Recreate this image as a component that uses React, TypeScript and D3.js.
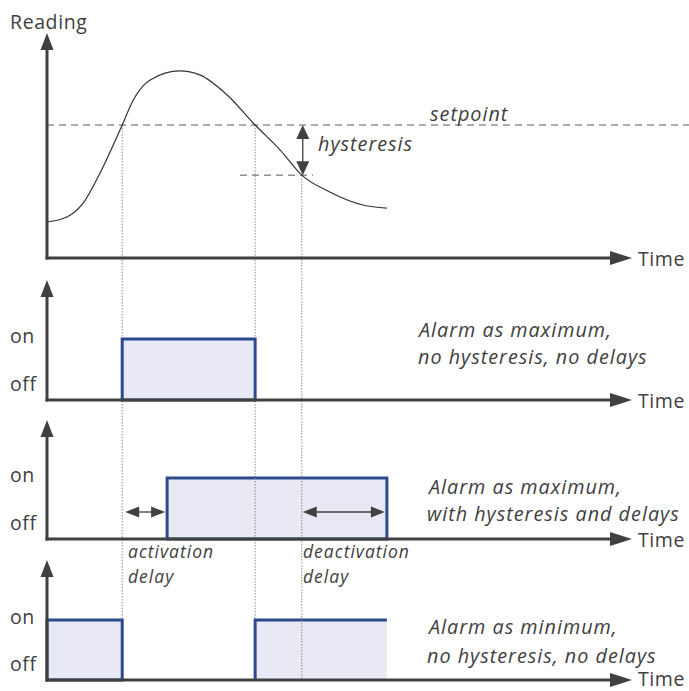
import React from "react";
import * as d3 from "d3";

// ---- data (time and reading in arbitrary units 0..100) ----
const curveTime = [0, 3.4, 6.2, 9.1, 12.9, 14.8, 17.7, 22.8, 26.2, 30.9, 35.7, 40.0, 43.7, 48.5, 54.2, 58.3];
const curveReading = [16.5, 18.8, 25.2, 39, 61, 72.5, 81.7, 85.8, 84, 74.8, 61, 49.5, 38, 30.3, 24.3, 22.9];
const setpoint = 61;
const hysteresisLow = 38;
const crossUp = 12.9;
const crossDown = 35.7;
const crossHyst = 43.7;
const activationDelayEnd = 20.6;
const deactivationDelayEnd = 58.3;
const curveEnd = 58.3;

const panelTitles = [
  ["Alarm as maximum,", "no hysteresis, no delays"],
  ["Alarm as maximum,", "with hysteresis and delays"],
  ["Alarm as minimum,", "no hysteresis, no delays"],
];
const stateLabels = ["on", "off"];

const W = 689;
const H = 691;
const FONT = "'Open Sans', 'DejaVu Sans', sans-serif";
const TXT = "#404040";
const AX = "#404040";
const BLUE = "#2e4a8e";
const FILL = "#e8e9f4";

const x = d3.scaleLinear().domain([0, 100]).range([47, 630]);
const yR = d3.scaleLinear().domain([0, 100]).range([258, 40]);

const panels = [
  { top: 280, base: 400, on: 339 },
  { top: 420, base: 539, on: 478 },
  { top: 560, base: 680, on: 620 },
];

function VArrow({ cx, y1, y2 }: { cx: number; y1: number; y2: number }) {
  return (
    <g>
      <line x1={cx} x2={cx} y1={y2} y2={y1 + 14} stroke={AX} strokeWidth={3} />
      <path d={`M${cx - 6.5},${y1 + 17} L${cx},${y1} L${cx + 6.5},${y1 + 17} Z`} fill={AX} />
    </g>
  );
}

function HArrow({ cy, x1, x2 }: { cy: number; x1: number; x2: number }) {
  return (
    <g>
      <line x1={x1} x2={x2 - 18} y1={cy} y2={cy} stroke={AX} strokeWidth={3} />
      <path d={`M${x2 - 22},${cy - 7} L${x2},${cy} L${x2 - 22},${cy + 7} Z`} fill={AX} />
    </g>
  );
}

function DoubleArrowH({ x1, x2, cy }: { x1: number; x2: number; cy: number }) {
  const hl = 14, hw = 5.5;
  return (
    <g>
      <line x1={x1 + hl - 2} x2={x2 - hl + 2} y1={cy} y2={cy} stroke={AX} strokeWidth={1.3} />
      <path d={`M${x1},${cy} L${x1 + hl},${cy - hw} L${x1 + hl},${cy + hw} Z`} fill={AX} />
      <path d={`M${x2},${cy} L${x2 - hl},${cy - hw} L${x2 - hl},${cy + hw} Z`} fill={AX} />
    </g>
  );
}

function DoubleArrowV({ y1, y2, cx }: { y1: number; y2: number; cx: number }) {
  const hl = 14, hw = 6.5;
  return (
    <g>
      <line y1={y1 + hl - 2} y2={y2 - hl + 2} x1={cx} x2={cx} stroke={AX} strokeWidth={1.3} />
      <path d={`M${cx},${y1} L${cx - hw},${y1 + hl} L${cx + hw},${y1 + hl} Z`} fill={AX} />
      <path d={`M${cx},${y2} L${cx - hw},${y2 - hl} L${cx + hw},${y2 - hl} Z`} fill={AX} />
    </g>
  );
}

export default function App() {
  const pts: [number, number][] = curveTime.map((t, i) => [t, curveReading[i]]);
  const line = d3
    .line<[number, number]>()
    .x((d) => x(d[0]))
    .y((d) => yR(d[1]))
    .curve(d3.curveMonotoneX);

  const ySet = yR(setpoint);
  const yHys = yR(hysteresisLow);
  const dot = { stroke: "#8a8a8a", strokeWidth: 1, strokeDasharray: "1.5,1.5" };
  const reg = { fontFamily: FONT, fill: TXT, fontSize: 19.5, letterSpacing: 0.6 };
  const ital = { fontFamily: FONT, fill: TXT, fontSize: 19.8, letterSpacing: 1, fontStyle: "italic" };
  const small = { fontFamily: FONT, fill: TXT, fontSize: 17.5, letterSpacing: 1, fontStyle: "italic" };

  const p2 = panels[0], p3 = panels[1], p4 = panels[2];

  return (
    <svg width={W} height={H} style={{ position: "absolute", left: 0, top: 0 }}>
      <rect width={W} height={H} fill="#fff" />
      {/* dotted verticals */}
      <line x1={x(crossUp)} x2={x(crossUp)} y1={ySet} y2={p4.on} {...dot} />
      <line x1={x(crossDown)} x2={x(crossDown)} y1={ySet} y2={p4.base} {...dot} />
      <line x1={x(crossHyst)} x2={x(crossHyst)} y1={yHys} y2={p4.base} {...dot} />

      {/* top panel */}
      <text x={10} y={29} {...reg}>Reading</text>
      <line x1={x(0)} x2={W} y1={ySet} y2={ySet} stroke="#595959" strokeWidth={1} strokeDasharray="7,5" />
      <line x1={240} x2={313} y1={yHys} y2={yHys} stroke="#595959" strokeWidth={1} strokeDasharray="7,5" />
      <path d={line(pts) || ""} fill="none" stroke="#333" strokeWidth={1.2} />
      <DoubleArrowV cx={x(crossHyst) + 1} y1={ySet} y2={yHys} />
      <text x={318} y={151} {...ital}>hysteresis</text>
      <text x={430} y={121} {...ital}>setpoint</text>
      <VArrow cx={x(0)} y1={33} y2={yR(0) + 1.5} />
      <HArrow cy={yR(0)} x1={x(0) - 1.5} x2={632} />
      <text x={638} y={266} {...reg}>Time</text>

      {/* panel 2 */}
      <rect x={x(crossUp)} y={p2.on} width={x(crossDown) - x(crossUp)} height={p2.base - p2.on} fill={FILL} stroke={BLUE} strokeWidth={3} />
      {/* panel 3 */}
      <rect x={x(activationDelayEnd)} y={p3.on} width={x(deactivationDelayEnd) - x(activationDelayEnd)} height={p3.base - p3.on} fill={FILL} stroke={BLUE} strokeWidth={3} />
      {/* panel 4 */}
      <rect x={x(0)} y={p4.on} width={x(crossUp) - x(0)} height={p4.base - p4.on} fill={FILL} stroke={BLUE} strokeWidth={3} />
      <rect x={x(crossDown)} y={p4.on} width={x(curveEnd) - x(crossDown)} height={p4.base - p4.on} fill={FILL} />
      <path d={`M${x(crossDown)},${p4.base} V${p4.on} H${x(curveEnd)}`} fill="none" stroke={BLUE} strokeWidth={3} />
      {/* dotted lines visible inside fills */}
      <line x1={x(crossDown)} x2={x(crossDown)} y1={p3.on} y2={p3.base} {...dot} />
      <line x1={x(crossHyst)} x2={x(crossHyst)} y1={p3.on} y2={p3.base} {...dot} />
      <line x1={x(crossHyst)} x2={x(crossHyst)} y1={p4.on} y2={p4.base} {...dot} />

      {panels.map((p, i) => (
        <g key={i}>
          <VArrow cx={x(0)} y1={p.top} y2={p.base + 1.5} />
          <HArrow cy={p.base} x1={x(0) - 1.5} x2={632} />
          <text x={638} y={i === 2 ? p.base + 6 : p.base + 8} {...reg}>Time</text>
          <text x={10} y={p.on + 4} {...reg}>{stateLabels[0]}</text>
          <text x={10} y={p.base - 9} {...reg}>{stateLabels[1]}</text>
        </g>
      ))}

      {/* delays */}
      <DoubleArrowH x1={x(crossUp) + 3} x2={x(activationDelayEnd) - 2} cy={512} />
      <DoubleArrowH x1={x(crossHyst) + 1} x2={x(deactivationDelayEnd) - 2} cy={512} />
      <text x={128} y={558} {...small}>activation</text>
      <text x={128} y={583} {...small}>delay</text>
      <text x={303} y={558} {...small}>deactivation</text>
      <text x={303} y={583} {...small}>delay</text>

      {/* panel titles */}
      <text x={419} y={337} {...ital}>{panelTitles[0][0]}</text>
      <text x={418} y={364} {...ital}>{panelTitles[0][1]}</text>
      <text x={429} y={494} {...ital}>{panelTitles[1][0]}</text>
      <text x={427} y={521} {...ital}>{panelTitles[1][1]}</text>
      <text x={429} y={634} {...ital}>{panelTitles[2][0]}</text>
      <text x={427} y={663} {...ital}>{panelTitles[2][1]}</text>
    </svg>
  );
}
